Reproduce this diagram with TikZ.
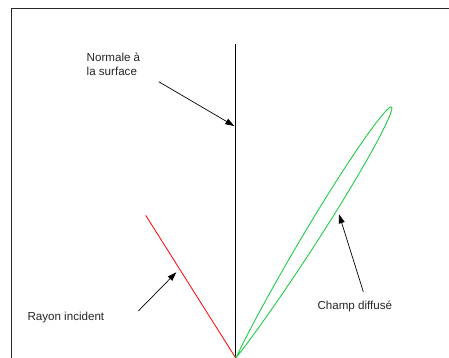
\documentclass[tikz,border=0pt]{standalone}
\usepackage{fontspec}
\setmainfont{Liberation Sans}
\usetikzlibrary{arrows.meta}
\definecolor{lobegreen}{RGB}{30,205,70}
\definecolor{framegray}{RGB}{40,40,40}
\tikzset{
  lbl/.style={anchor=base west, inner sep=0pt, font=\fontsize{11.6}{13.8}\selectfont, text=black!85},
  pointer/.style={draw=black, line width=0.7pt, -{Triangle[length=9pt,width=6pt]}},
  thin line/.style={line width=0.8pt}
}
\begin{document}
\begin{tikzpicture}[x=1pt,y=1pt]
\useasboundingbox (0,0) rectangle (449,358);
% frame (continues beyond the picture at right and bottom)
\begin{scope}
\clip (0,0) rectangle (449,358);
\draw[framegray, line width=1pt] (11.3,-20) -- (11.3,349.7) -- (470,349.7);
\end{scope}
% coordinates
\coordinate (O) at (235.7,0);
\coordinate (ntop) at (235.7,314);
\coordinate (rtop) at (145.7,142.7);
% normal
\draw[thin line] (ntop) -- (O);
% incident ray
\draw[thin line, red] (rtop) -- (O);
% scattered lobe
\draw[lobegreen, line width=0.9pt, shift={(236.5,1)}, rotate=58.2]
  plot[domain=-11:11, samples=301, smooth] ({\x}:{294*exp(-0.0760*\x*\x)}) -- cycle;
% labels
\node[lbl, align=left, anchor=north west] (nlab) at (86.5,305.5) {Normale à\\la surface};
\node[lbl] (rlab) at (27.3,37.3) {Rayon incident};
\node[lbl] (clab) at (317.3,48.3) {Champ diffusé};
% pointer arrows
\coordinate (na0) at (158.7,276.3);
\coordinate (na1) at (234.3,232);
\coordinate (ra0) at (138.3,47);
\coordinate (ra1) at (176.3,85.7);
\coordinate (ca0) at (363.3,66.3);
\coordinate (ca1) at (339,143.7);
\draw[pointer] (na0) -- (na1);
\draw[pointer] (ra0) -- (ra1);
\draw[pointer] (ca0) -- (ca1);
\end{tikzpicture}
\end{document}
